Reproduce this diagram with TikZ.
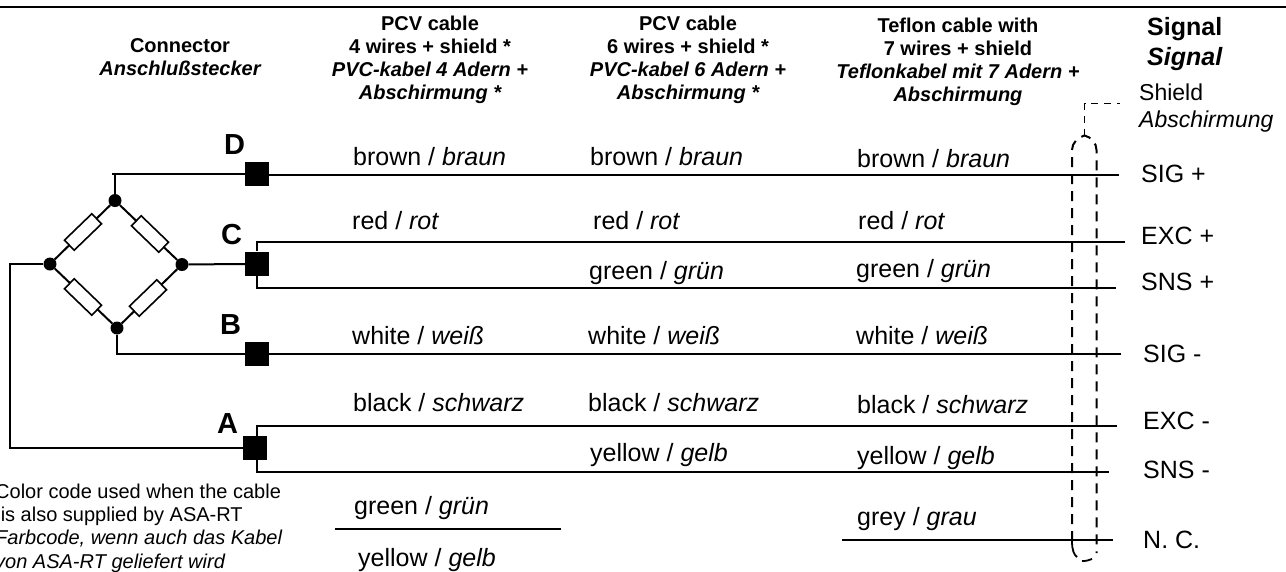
\documentclass[tikz,border=0pt]{standalone}
\usepackage{fontspec}
\setmainfont{Liberation Sans}
\tikzset{
  x=1pt,y=-1pt,
  wire/.style={line width=2pt,line cap=butt},
  shield/.style={line width=2pt,dash pattern=on 10pt off 7pt},
  term/.style={fill=black,draw=none,minimum width=24pt,minimum height=24pt,inner sep=0pt},
  dot/.style={circle,fill=black,draw=none,minimum size=13pt,inner sep=0pt},
  res/.style={rectangle,draw=black,fill=white,line width=1.6pt,minimum width=38pt,minimum height=14pt,inner sep=0pt},
  head/.style={font=\fontsize{20}{23}\selectfont\bfseries,align=center,inner sep=0pt,anchor=base},
  lab/.style={font=\fontsize{25}{28}\selectfont,anchor=base west,inner sep=0pt},
  pin/.style={font=\fontsize{29}{32}\selectfont\bfseries,inner sep=0pt,anchor=base west},
  sig/.style={font=\fontsize{25}{27}\selectfont,anchor=base west,inner sep=0pt,align=left},
  note/.style={font=\fontsize{20}{23.3}\selectfont,anchor=base west,inner sep=0pt,align=left}
}
\begin{document}
\begin{tikzpicture}
\useasboundingbox (0,0) rectangle (1286,571);
\coordinate (tl) at (0,6.5); \coordinate (tr) at (1286,6.5);
\draw[line width=2pt] (tl) -- (tr);
% bridge
\node[dot] (top) at (115,200.5) {};
\node[dot] (left) at (50,264) {};
\node[dot] (right) at (182,264.5) {};
\node[dot] (bot) at (117,328) {};
\node[term] (D) at (257,174) {};
\node[term] (C) at (257,264) {};
\node[term] (B) at (257,354) {};
\node[term] (A) at (255,448) {};
\draw[wire] (top) -- (top|-D) ++(-3,0) -- (D.west);
\draw[wire] (right) -- (C.west);
\draw[wire] (left) -- (10,264) |- (A.west);
\draw[wire] (bot) -- (bot|-B) -- (B.west);
\draw[wire] (top) -- (left) (top) -- (right) (bot) -- (left) (bot) -- (right);
\node[res,rotate=44] (r1) at (83,232) {};
\node[res,rotate=-44] (r2) at (150,234) {};
\node[res,rotate=-44] (r3) at (83,297) {};
\node[res,rotate=44] (r4) at (148,298) {};
% wires
\coordinate (eD) at (1119,175);
\coordinate (eEp) at (1125,242);
\coordinate (eSp) at (1116,288);
\coordinate (eB) at (1121,354);
\coordinate (eEm) at (1117,426);
\coordinate (eSm) at (1109,472);
\draw[wire] (D.east|-eD) -- (eD);
\draw[wire] (C.north) ++(0,-1) -- (257,242) -- (eEp);
\draw[wire] (C.south) -- (257,288) -- (eSp);
\draw[wire] (B.east) -- (eB);
\draw[wire] (257,436) -- (257,426) -- (eEm);
\draw[wire] (257,460) -- (257,472) -- (eSm);
\coordinate (nc1) at (842,540); \coordinate (nc2) at (1113,540);
\draw[wire] (nc1) -- (nc2);
\coordinate (gy1) at (335,529); \coordinate (gy2) at (561,529);
\draw[wire] (gy1) -- (gy2);
% shield
\coordinate (s1) at (1084.5,136); \coordinate (s2) at (1084.5,103.5); \coordinate (s3) at (1120,103.5);
\draw[line width=1.6pt,dash pattern=on 7pt off 6pt] (s1) -- (s2) -- (s3);
\draw[shield] (1072,541) -- (1072,150) .. controls (1072,143) and (1078,137) .. (1084.5,135.5) .. controls (1091,137) and (1096.5,143) .. (1096.5,150) -- (1096.5,553);
\draw[line width=1.8pt] (1072,541) .. controls (1072,550) and (1074,555) .. (1077,557);
\draw[line width=1.8pt] (1082,561) .. controls (1086,561) and (1089,560.5) .. (1092,559);
% headers
\node[head] (h0) at (180,75) {Connector\\\itshape Anschlußstecker};
\node[head] (h1) at (430,99) {PCV cable\\4 wires + shield *\\\itshape PVC-kabel 4 Adern +\\\itshape Abschirmung *};
\node[head] (h2) at (688,99) {PCV cable\\6 wires + shield *\\\itshape PVC-kabel 6 Adern +\\\itshape Abschirmung *};
\node[head] (h3) at (958,101) {Teflon cable with\\7 wires + shield\\\itshape Teflonkabel mit 7 Adern +\\\itshape Abschirmung};
\node[font=\fontsize{25}{30}\selectfont\bfseries,align=left,anchor=base west,inner sep=0pt] (h4) at (1147,65.7) {Signal\\\itshape Signal};
% pins
\node[pin] (pD) at (224,154) {D};
\node[pin] (pC) at (221,244) {C};
\node[pin] (pB) at (220,334) {B};
\node[pin] (pA) at (217,433) {A};
% wire labels
\newcommand{\cl}[2]{#1 / \textit{#2}}
\node[lab] (a1) at (353,165) {\cl{brown}{braun}};
\node[lab] (a2) at (590,165) {\cl{brown}{braun}};
\node[lab] (a3) at (857,167.5) {\cl{brown}{braun}};
\node[lab] (b1) at (352,229) {\cl{red}{rot}};
\node[lab] (b2) at (593,229) {\cl{red}{rot}};
\node[lab] (b3) at (858,229) {\cl{red}{rot}};
\node[lab] (c2) at (589,279) {\cl{green}{grün}};
\node[lab] (c3) at (856,277) {\cl{green}{grün}};
\node[lab] (d1) at (352,344) {\cl{white}{weiß}};
\node[lab] (d2) at (588,344) {\cl{white}{weiß}};
\node[lab] (d3) at (856,344) {\cl{white}{weiß}};
\node[lab] (e1) at (353,411) {\cl{black}{schwarz}};
\node[lab] (e2) at (588,411) {\cl{black}{schwarz}};
\node[lab] (e3) at (857,413) {\cl{black}{schwarz}};
\node[lab] (f2) at (590,461) {\cl{yellow}{gelb}};
\node[lab] (f3) at (857,464) {\cl{yellow}{gelb}};
\node[lab] (g1) at (354,514) {\cl{green}{grün}};
\node[lab] (g3) at (857,525) {\cl{grey}{grau}};
\node[lab] (y1) at (358,566) {\cl{yellow}{gelb}};
% signals
\node[sig,font=\fontsize{23}{27}\selectfont] (s0) at (1139,127.7) {Shield\\\textit{Abschirmung}};
\node[sig] (s4) at (1141,182.7) {SIG +};
\node[sig] (s5) at (1141,244) {EXC +};
\node[sig] (s6) at (1141,290) {SNS +};
\node[sig] (s7) at (1143,362) {SIG -};
\node[sig] (s8) at (1143,429) {EXC -};
\node[sig] (s9) at (1143,478) {SNS -};
\node[sig] (s10) at (1143,548) {N. C.};
% note
\node[note] (n) at (-5,568) {Color code used when the cable\\\ is also supplied by ASA-RT\\\textit{Farbcode, wenn auch das Kabel}\\\textit{von ASA-RT geliefert wird}};
\end{tikzpicture}
\end{document}
